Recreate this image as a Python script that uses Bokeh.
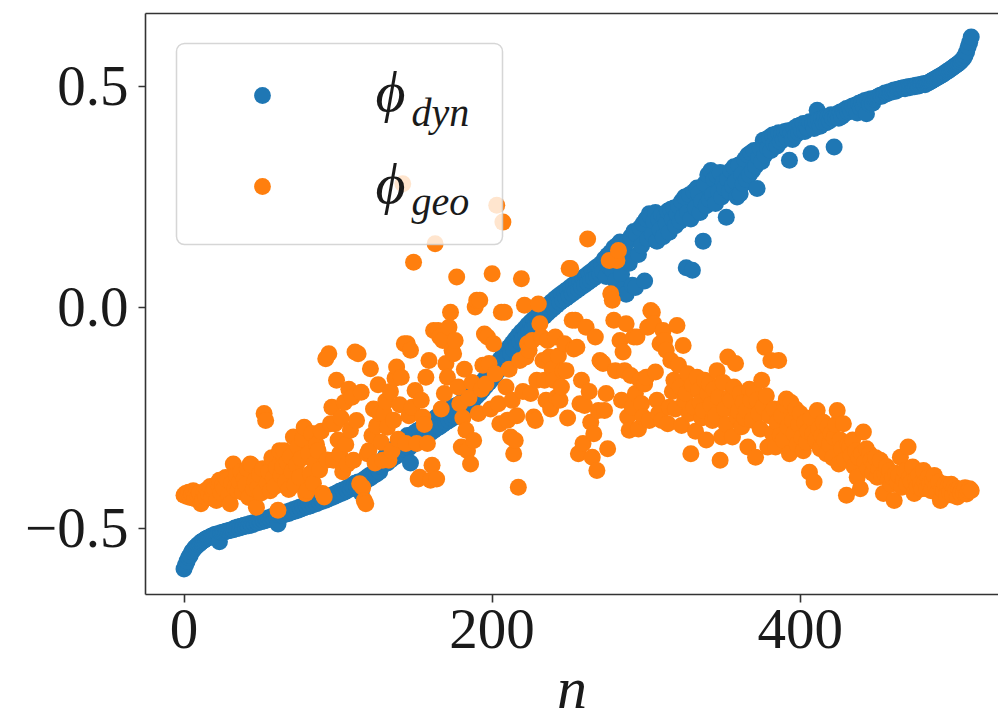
from bokeh.plotting import figure
from bokeh.models import Range1d, FixedTicker, LinearAxis, Legend, LegendItem, Label, BoxAnnotation
from bokeh.embed import file_html
from bokeh.resources import INLINE
from bokeh.core.properties import value

# ---------------- data ----------------
phi_dyn = [
    -0.592, -0.583, -0.574, -0.566, -0.561, -0.553, -0.549, -0.544, -0.541, -0.537, -0.535, -0.531, -0.529, -0.527, -0.524, -0.522,
    -0.521, -0.519, -0.517, -0.516, -0.514, -0.513, -0.512, -0.530, -0.510, -0.509, -0.508, -0.507, -0.506, -0.505, -0.504, -0.503,
    -0.503, -0.499, -0.501, -0.497, -0.499, -0.495, -0.497, -0.493, -0.495, -0.491, -0.494, -0.489, -0.492, -0.487, -0.489, -0.485,
    -0.487, -0.483, -0.485, -0.480, -0.483, -0.478, -0.481, -0.476, -0.478, -0.473, -0.476, -0.471, -0.474, -0.490, -0.470, -0.467,
    -0.470, -0.465, -0.468, -0.462, -0.466, -0.460, -0.463, -0.457, -0.461, -0.455, -0.459, -0.452, -0.456, -0.450, -0.453, -0.447,
    -0.451, -0.445, -0.449, -0.442, -0.446, -0.440, -0.444, -0.437, -0.441, -0.434, -0.438, -0.431, -0.436, -0.428, -0.433, -0.426,
    -0.430, -0.423, -0.427, -0.420, -0.424, -0.416, -0.421, -0.413, -0.418, -0.410, -0.414, -0.406, -0.411, -0.402, -0.407, -0.398,
    -0.403, -0.395, -0.399, -0.420, -0.391, -0.395, -0.386, -0.390, -0.381, -0.386, -0.377, -0.381, -0.372, -0.377, -0.367, -0.372,
    -0.360, -0.345, -0.355, -0.335, -0.352, -0.330, -0.346, -0.322, -0.340, -0.318, -0.336, -0.312, -0.330, -0.305, -0.326, -0.300,
    -0.322, -0.290, -0.318, -0.352, -0.312, -0.285, -0.308, -0.280, -0.303, -0.276, -0.298, -0.272, -0.293, -0.268, -0.289, -0.264,
    -0.284, -0.258, -0.279, -0.250, -0.274, -0.245, -0.270, -0.240, -0.265, -0.236, -0.260, -0.232, -0.256, -0.228, -0.251, -0.224,
    -0.247, -0.222, -0.242, -0.218, -0.236, -0.212, -0.230, -0.205, -0.224, -0.198, -0.216, -0.190, -0.209, -0.183, -0.201, -0.176,
    -0.194, -0.170, -0.186, -0.163, -0.178, -0.155, -0.170, -0.147, -0.162, -0.138, -0.153, -0.128, -0.143, -0.118, -0.133, -0.108,
    -0.123, -0.099, -0.113, -0.090, -0.104, -0.081, -0.095, -0.072, -0.086, -0.063, -0.078, -0.055, -0.070, -0.048, -0.062, -0.040,
    -0.055, -0.033, -0.048, -0.026, -0.040, -0.019, -0.033, -0.012, -0.026, -0.005, -0.020, 0.002, -0.013, 0.008, -0.007, 0.014,
    -0.001, 0.020, 0.005, 0.026, 0.011, 0.031, 0.016, 0.036, 0.021, 0.041, 0.026, 0.047, 0.031, 0.052, 0.036, 0.057,
    0.041, 0.062, 0.046, 0.067, 0.051, 0.072, 0.056, 0.078, 0.061, 0.083, 0.066, 0.089, 0.071, 0.094, 0.076, 0.100,
    0.081, 0.110, 0.070, 0.118, 0.092, 0.125, 0.085, 0.135, 0.060, 0.140, 0.100, 0.148, 0.075, 0.040, 0.130, 0.030,
    0.150, 0.100, 0.160, 0.050, 0.172, 0.045, 0.165, 0.120, 0.180, 0.140, 0.190, 0.060, 0.200, 0.155, 0.212, 0.205,
    0.165, 0.195, 0.215, 0.150, 0.200, 0.175, 0.210, 0.160, 0.205, 0.190, 0.218, 0.170, 0.222, 0.200, 0.225, 0.185,
    0.212, 0.230, 0.195, 0.240, 0.205, 0.250, 0.090, 0.215, 0.255, 0.200, 0.084, 0.262, 0.225, 0.270, 0.257, 0.215,
    0.240, 0.150, 0.280, 0.230, 0.300, 0.245, 0.310, 0.255, 0.290, 0.235, 0.298, 0.262, 0.305, 0.250, 0.282, 0.270,
    0.204, 0.290, 0.262, 0.310, 0.275, 0.318, 0.285, 0.250, 0.322, 0.257, 0.300, 0.280, 0.335, 0.290, 0.345, 0.300,
    0.350, 0.310, 0.355, 0.320, 0.269, 0.340, 0.360, 0.330, 0.378, 0.345, 0.380, 0.360, 0.385, 0.355, 0.390, 0.370,
    0.392, 0.365, 0.395, 0.375, 0.393, 0.380, 0.398, 0.385, 0.400, 0.333, 0.395, 0.380, 0.405, 0.390, 0.410, 0.395,
    0.412, 0.400, 0.416, 0.398, 0.410, 0.405, 0.420, 0.348, 0.415, 0.405, 0.420, 0.446, 0.425, 0.410, 0.428, 0.418,
    0.430, 0.418, 0.432, 0.422, 0.436, 0.428, 0.363, 0.430, 0.438, 0.428, 0.442, 0.432, 0.445, 0.438, 0.450, 0.442,
    0.452, 0.444, 0.456, 0.448, 0.458, 0.440, 0.462, 0.452, 0.465, 0.455, 0.468, 0.438, 0.470, 0.460, 0.472, 0.462,
    0.471, 0.474, 0.476, 0.478, 0.480, 0.478, 0.482, 0.485, 0.483, 0.486, 0.488, 0.487, 0.490, 0.492, 0.489, 0.493,
    0.494, 0.495, 0.496, 0.497, 0.495, 0.498, 0.499, 0.497, 0.500, 0.501, 0.499, 0.502, 0.503, 0.501, 0.504, 0.505,
    0.506, 0.504, 0.507, 0.508, 0.510, 0.512, 0.514, 0.516, 0.518, 0.520, 0.522, 0.524, 0.526, 0.528, 0.531, 0.533,
    0.535, 0.538, 0.540, 0.543, 0.545, 0.548, 0.550, 0.553, 0.556, 0.560, 0.564, 0.570, 0.578, 0.590, 0.600, 0.612,
]

phi_geo = [
    -0.425, -0.421, -0.428, -0.418, -0.430, -0.422, -0.415, -0.433, -0.419, -0.426, -0.420, -0.444, -0.437, -0.417, -0.429, -0.412,
    -0.423, -0.405, -0.431, -0.414, -0.409, -0.437, -0.398, -0.391, -0.420, -0.402, -0.411, -0.385, -0.390, -0.425, -0.444, -0.398,
    -0.354, -0.408, -0.380, -0.415, -0.395, -0.372, -0.418, -0.388, -0.402, -0.365, -0.430, -0.354, -0.357, -0.410, -0.392, -0.452,
    -0.407, -0.378, -0.420, -0.365, -0.240, -0.256, -0.398, -0.372, -0.415, -0.340, -0.386, -0.405, -0.362, -0.459, -0.324, -0.380,
    -0.361, -0.324, -0.395, -0.350, -0.412, -0.338, -0.372, -0.293, -0.401, -0.356, -0.315, -0.384, -0.342, -0.298, -0.271, -0.421,
    -0.414, -0.330, -0.376, -0.285, -0.398, -0.352, -0.310, -0.324, -0.368, -0.280, -0.421, -0.429, -0.116, -0.345, -0.105, -0.263,
    -0.226, -0.346, -0.263, -0.165, -0.300, -0.331, -0.250, -0.372, -0.215, -0.310, -0.355, -0.185, -0.278, -0.203, -0.346, -0.101,
    -0.256, -0.105, -0.399, -0.192, -0.407, -0.437, -0.444, -0.331, -0.324, -0.139, -0.290, -0.230, -0.352, -0.268, -0.175, -0.240,
    -0.305, -0.346, -0.240, -0.212, -0.271, -0.346, -0.190, -0.325, -0.255, -0.160, -0.135, -0.298, -0.220, -0.158, 0.280, -0.082,
    -0.308, -0.082, -0.245, -0.097, -0.226, 0.102, -0.188, -0.308, -0.388, -0.384, -0.210, -0.248, -0.265, -0.158, -0.308, -0.120,
    -0.391, -0.357, -0.052, 0.144, -0.388, -0.052, -0.067, -0.230, -0.075, -0.195, -0.127, -0.158, -0.045, -0.011, -0.097, -0.105,
    -0.075, 0.069, -0.180, -0.218, -0.316, -0.250, -0.140, -0.278, -0.324, -0.205, -0.354, -0.170, -0.301, 0.001, 0.016, -0.240,
    0.016, -0.185, -0.131, -0.060, -0.173, -0.067, -0.127, -0.230, 0.076, -0.082, -0.150, 0.231, -0.218, -0.263, -0.011, 0.193,
    -0.011, -0.180, -0.255, -0.140, -0.293, -0.210, -0.331, -0.301, -0.245, -0.407, -0.120, 0.065, -0.190, 0.005, -0.112, -0.082,
    -0.097, -0.195, -0.075, -0.248, -0.256, -0.165, 0.008, -0.037, -0.067, -0.120, -0.165, -0.210, -0.075, -0.112, -0.230, -0.140,
    -0.165, -0.067, -0.203, -0.110, -0.210, -0.180, -0.143, -0.082, -0.143, -0.250, 0.088, 0.088, -0.029, -0.094, -0.029, -0.090,
    -0.331, -0.218, -0.165, -0.308, -0.222, -0.045, 0.155, -0.190, -0.260, -0.339, -0.286, -0.067, -0.369, -0.233, -0.120, -0.124,
    -0.127, -0.233, -0.195, -0.320, 0.106, 0.031, 0.016, -0.029, -0.143, 0.106, 0.129, -0.075, -0.210, -0.101, -0.143, -0.037,
    -0.248, -0.278, -0.154, -0.226, -0.067, -0.195, -0.067, -0.275, -0.165, -0.218, -0.248, -0.173, -0.158, -0.045, -0.256, -0.007,
    -0.011, -0.037, -0.146, -0.210, -0.240, -0.082, -0.256, -0.052, -0.075, -0.097, -0.263, -0.226, -0.120, -0.190, -0.165, -0.230,
    -0.041, -0.131, -0.180, -0.267, -0.086, -0.210, -0.195, -0.150, -0.240, -0.331, -0.175, -0.226, -0.280, -0.158, -0.188, -0.215,
    -0.250, -0.233, -0.165, -0.300, -0.195, -0.173, -0.220, -0.256, -0.185, -0.245, -0.143, -0.203, -0.346, -0.293, -0.170, -0.230,
    -0.265, -0.112, -0.203, -0.210, -0.293, -0.180, -0.127, -0.248, -0.235, -0.195, -0.270, -0.215, -0.250, -0.233, -0.316, -0.185,
    -0.210, -0.255, -0.188, -0.339, -0.210, -0.240, -0.275, -0.165, -0.225, -0.090, -0.200, -0.316, -0.245, -0.120, -0.285, -0.230,
    -0.316, -0.260, -0.120, -0.290, -0.245, -0.300, -0.220, -0.207, -0.270, -0.331, -0.215, -0.256, -0.285, -0.230, -0.310, -0.265,
    -0.240, -0.295, -0.324, -0.260, -0.305, -0.280, -0.373, -0.250, -0.286, -0.395, -0.300, -0.233, -0.275, -0.320, -0.290, -0.260,
    -0.300, -0.331, -0.270, -0.310, -0.285, -0.340, -0.295, -0.265, -0.233, -0.354, -0.300, -0.320, -0.263, -0.345, -0.425, -0.310,
    -0.316, -0.335, -0.300, -0.360, -0.325, -0.384, -0.340, -0.410, -0.330, -0.282, -0.350, -0.320, -0.365, -0.331, -0.345, -0.375,
    -0.355, -0.340, -0.384, -0.365, -0.346, -0.380, -0.421, -0.376, -0.360, -0.390, -0.370, -0.400, -0.384, -0.437, -0.375, -0.395,
    -0.380, -0.339, -0.407, -0.390, -0.370, -0.400, -0.316, -0.385, -0.395, -0.361, -0.421, -0.390, -0.405, -0.380, -0.399, -0.410,
    -0.369, -0.395, -0.410, -0.385, -0.400, -0.415, -0.390, -0.380, -0.405, -0.420, -0.395, -0.437, -0.410, -0.414, -0.400, -0.425,
    -0.405, -0.418, -0.400, -0.425, -0.407, -0.415, -0.429, -0.410, -0.420, -0.412, -0.418, -0.408, -0.422, -0.415, -0.410, -0.414,
]

n = list(range(len(phi_dyn)))

x_ticks = [0, 200, 400]
y_ticks = [-0.5, 0.0, 0.5]
y_tick_labels = ["\u22120.5", "0.0", "0.5"]
x_label = "n"
series_base = ["\u03d5", "\u03d5"]
series_sub = ["dyn", "geo"]
colors = ["#1f77b4", "#ff7f0e"]

FONT = "Liberation Serif"
TXT = "#1a1a1a"
FRAME = "#333333"

p = figure(width=998, height=724, output_backend="svg", toolbar_location=None,
           x_range=Range1d(-25.0, 528.7), y_range=Range1d(-0.6495, 0.665),
           min_border_left=145, min_border_right=0, min_border_top=13,
           min_border_bottom=130)
p.outline_line_color = None
p.grid.visible = False
p.background_fill_color = "white"
p.border_fill_color = "white"

r_dyn = p.scatter(n, phi_dyn, size=17, fill_color=colors[0], line_color=None)
r_geo = p.scatter(n, phi_geo, size=17, fill_color=colors[1], line_color=None)

for ax in (p.xaxis[0], p.yaxis[0]):
    ax.axis_line_color = FRAME
    ax.axis_line_width = 1.6
    ax.major_tick_line_color = FRAME
    ax.major_tick_line_width = 1.6
    ax.major_tick_in = 0
    ax.minor_tick_line_color = None
    ax.major_label_text_font = FONT
    ax.major_label_text_font_size = "57px"
    ax.major_label_text_color = TXT

p.xaxis.ticker = FixedTicker(ticks=x_ticks)
p.xaxis.major_tick_out = 8
p.xaxis.major_label_standoff = 7
p.xaxis.axis_label = x_label
p.xaxis.axis_label_text_font = FONT
p.xaxis.axis_label_text_font_style = "italic"
p.xaxis.axis_label_text_font_size = "60px"
p.xaxis.axis_label_text_color = TXT
p.xaxis.axis_label_standoff = 4
p.yaxis.ticker = FixedTicker(ticks=y_ticks)
p.yaxis.major_tick_out = 7
p.yaxis.major_label_standoff = 10
p.yaxis.major_label_overrides = dict(zip(y_ticks, y_tick_labels))

top = LinearAxis(ticker=FixedTicker(ticks=[]), major_tick_out=0, major_tick_in=0,
                 minor_tick_out=0, minor_tick_in=0, major_label_text_font_size="0px",
                 major_label_standoff=0, axis_line_color=FRAME, axis_line_width=1.6)
p.add_layout(top, "above")

# legend frame: translucent white rounded box (frame-relative screen units)
legend_box = BoxAnnotation(left=31, right=357, top=551, bottom=350,
                           left_units="screen", right_units="screen",
                           top_units="screen", bottom_units="screen",
                           fill_color="white", fill_alpha=0.8,
                           line_color="#cccccc", line_alpha=0.8, line_width=1.5,
                           border_radius=8, level="annotation")
p.add_layout(legend_box)

# legend markers (transparent legend over the box)
legend = Legend(
    items=[LegendItem(label=value(" "), renderers=[r_dyn]),
           LegendItem(label=value(" "), renderers=[r_geo])],
    location="top_left", margin=61, padding=0, spacing=49,
    glyph_width=112, glyph_height=42, label_height=42, label_width=100,
    label_standoff=0, label_text_font_size="10px",
    border_line_color=None, background_fill_alpha=0.0,
)
p.add_layout(legend)

# legend texts (phi with subscripts)
base_y = [503, 411]
sub_y = [482, 393]
for i in range(2):
    p.add_layout(Label(x=230, y=base_y[i], x_units="screen", y_units="screen",
                       text=series_base[i], text_font=FONT, text_font_style="italic",
                       text_font_size="58px", text_color=TXT,
                       text_baseline="alphabetic", text_align="left"))
    p.add_layout(Label(x=266, y=sub_y[i], x_units="screen", y_units="screen",
                       text=series_sub[i], text_font=FONT, text_font_style="italic",
                       text_font_size="40px", text_color=TXT,
                       text_baseline="alphabetic", text_align="left"))

open("out.html", "w").write(file_html(p, INLINE))
